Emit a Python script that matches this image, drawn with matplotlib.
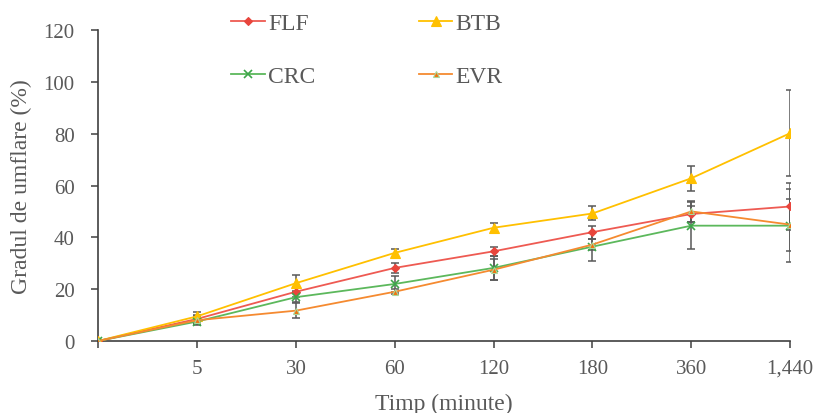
import numpy as np
import matplotlib
matplotlib.use("Agg")
import matplotlib.pyplot as plt

plt.rcParams['font.family'] = ['Liberation Serif', 'DejaVu Serif']

# time points (minutes); first point is t=0 with no label
time_labels = ["", "5", "30", "60", "120", "180", "360", "1,440"]

flf = [0, 8.5, 19.0, 28.2, 34.6, 42.0, 49.0, 51.9]
btb = [0, 9.5, 22.3, 34.0, 43.7, 49.2, 62.8, 80.2]
crc = [0, 7.5, 16.9, 22.0, 28.2, 36.4, 44.5, 44.5]
evr = [0, 8.0, 11.7, 19.0, 27.5, 37.2, 50.0, 44.9]

flf_err = [0, 1.5, 2.0, 2.0, 1.8, 2.5, 3.0, 9.0]
btb_err = [0, 1.5, 3.0, 1.5, 1.8, 2.7, 4.9, 16.5]
crc_err = [0, 1.5, 2.0, 3.0, 4.5, 5.4, 9.0, 14.0]
evr_err = [0, 1.5, 3.0, 1.0, 4.0, 2.0, 4.0, 10.0]

x = np.arange(len(time_labels))
grey = '#595959'

fig, ax = plt.subplots(figsize=(8.18, 4.14), dpi=100)
fig.subplots_adjust(left=0.12, right=0.966, bottom=0.174, top=0.925)

series = [
    ("FLF", flf, flf_err, '#E8453C', '#EE5A52', 'D', 4.5, '#E8453C'),
    ("BTB", btb, btb_err, '#FFC000', '#FFC000', '^', 7, '#FFC000'),
    ("CRC", crc, crc_err, '#3DA64A', '#5CB85C', 'x', 6, '#3DA64A'),
    ("EVR", evr, evr_err, '#F0720F', '#F58A30', '^', 5, '#A9D89A'),
]

handles = {}
for name, y, err, mcol, lcol, mk, ms, mec in series:
    ax.errorbar(x, y, yerr=err, fmt='none', ecolor=grey, elinewidth=1.1,
                capsize=3, capthick=1.1, zorder=2)
    ln, = ax.plot(x, y, color=lcol, lw=1.3, marker=mk, ms=ms, mfc=mcol,
                  mec=mec, mew=1.2 if mk == 'x' else 0.8, label=name, zorder=3)
    handles[name] = ln

ax.set_xlim(0, 7)
ax.set_ylim(0, 120)
ax.set_yticks(np.arange(0, 121, 20))
ax.set_xticks(x)
ax.set_xticklabels(time_labels)
ax.spines['top'].set_visible(False)
ax.spines['right'].set_visible(False)
for s in ['left', 'bottom']:
    ax.spines[s].set_color('#404040')
    ax.spines[s].set_linewidth(1.2)
ax.tick_params(axis='both', labelsize=15, colors='#404040', labelcolor=grey,
               length=5, width=1.1)
ax.tick_params(axis='x', pad=8)
ax.tick_params(axis='y', pad=12)

ax.set_xlabel("Timp (minute)", fontsize=17, color=grey, labelpad=11)
ax.set_ylabel("Gradul de umflare (%)", fontsize=17, color=grey, labelpad=8)

# legend is filled row by row: FLF, BTB / CRC, EVR
order = ["FLF", "CRC", "BTB", "EVR"]
leg = fig.legend([handles[n] for n in order], order, loc='upper left',
                 bbox_to_anchor=(0.283, 0.968), ncol=2, frameon=False,
                 fontsize=17, labelspacing=1.35, columnspacing=4.4,
                 handlelength=1.4, handletextpad=0.15, borderpad=0,
                 borderaxespad=0)
for t in leg.get_texts():
    t.set_color(grey)

fig.savefig("out.png", dpi=100)
